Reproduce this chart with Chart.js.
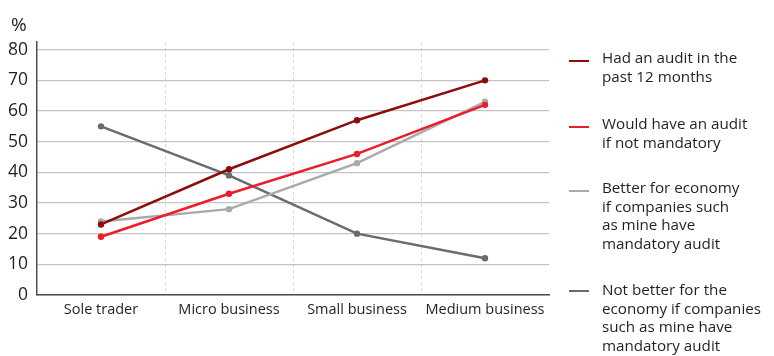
<!DOCTYPE html>
<html>
<head>
<meta charset="utf-8">
<script src="https://cdn.jsdelivr.net/npm/chart.js@4"></script>
<style>
  html, body { margin: 0; padding: 0; background: #fff; }
  #wrap { position: relative; width: 774px; height: 356px; overflow: hidden; font-family: "Open Sans", sans-serif; color: #231f20; }
  #unit { position: absolute; left: 11px; top: 11px; font-size: 19px; }
  #legend { position: absolute; left: 569px; top: 0; width: 205px; height: 356px; }
  .item { position: absolute; left: 0; }
  .swatch { position: absolute; left: 0; top: 12px; width: 20px; height: 2px; }
  .text { position: absolute; left: 33px; top: 0; width: 220px; font-size: 15.2px; line-height: 18.5px; white-space: nowrap; }
</style>
</head>
<body>
<div id="wrap">
  <canvas id="c" width="774" height="356"></canvas>
  <div id="unit">%</div>
  <div id="legend"></div>
</div>
<script>
const categories = ["Sole trader", "Micro business", "Small business", "Medium business"];
const yTicks = [0, 10, 20, 30, 40, 50, 60, 70, 80];

const seriesNames = [
  ["Had an audit in the", "past 12 months"],
  ["Would have an audit", "if not mandatory"],
  ["Better for economy", "if companies such", "as mine have", "mandatory audit"],
  ["Not better for the", "economy if companies", "such as mine have", "mandatory audit"]
];
const hadAudit      = [23, 41, 57, 70];
const wouldAudit    = [19, 33, 46, 62];
const betterEconomy = [24, 28, 43, 63];
const notBetter     = [55, 39, 20, 12];

const colors = ["#8c0d0d", "#ec1c2a", "#aaaaaa", "#6b6b6d"];
const legendTops = [48, 114, 178, 280];
const swatchTops = [12, 12, 12, 10];

const seriesValues = [hadAudit, wouldAudit, betterEconomy, notBetter];

const datasets = seriesValues.map((vals, i) => ({
  label: seriesNames[i].join(" "),
  data: vals,
  borderColor: colors[i],
  backgroundColor: colors[i],
  borderWidth: 2.5,
  pointRadius: 3.2,
  pointHoverRadius: 3.2,
  pointBorderWidth: 0,
  tension: 0
}));

new Chart(document.getElementById("c"), {
  type: "line",
  data: { labels: categories, datasets },
  options: {
    responsive: false,
    animation: false,
    events: [],
    layout: { padding: { top: 42, right: 225, left: 0, bottom: 0 } },
    plugins: { legend: { display: false }, tooltip: { enabled: false } },
    scales: {
      x: {
        offset: true,
        grid: {
          offset: true,
          drawTicks: false,
          // dashed separators between categories; the outer edges stay blank
          color: ctx => (ctx.type !== "tick" || ctx.index === 0) ? "rgba(0,0,0,0)" : "#d6d6d6",
          lineWidth: 1
        },
        border: { display: true, color: "#4d4d4f", width: 1.5, dash: [3, 3] },
        ticks: { color: "#231f20", font: { family: "'Open Sans', sans-serif", size: 14.5 }, padding: 6 },
        afterFit: s => { s.height = 61; }
      },
      y: {
        min: 0,
        max: 82.5,
        afterBuildTicks: s => { s.ticks = yTicks.map(v => ({ value: v })); },
        grid: { drawTicks: false, color: "#c4c4c4", lineWidth: 1.2 },
        border: { display: true, color: "#4d4d4f", width: 1.5 },
        ticks: { color: "#231f20", font: { family: "'Open Sans', sans-serif", size: 17.5 }, padding: 9, callback: v => String(v) },
        afterFit: s => { s.width = 37; }
      }
    }
  }
});

// legend built from the series names
const legend = document.getElementById("legend");
seriesNames.forEach((lines, i) => {
  const item = document.createElement("div");
  item.className = "item";
  item.style.top = legendTops[i] + "px";
  const sw = document.createElement("div");
  sw.className = "swatch";
  sw.style.top = swatchTops[i] + "px";
  sw.style.background = colors[i];
  const tx = document.createElement("div");
  tx.className = "text";
  tx.innerHTML = lines.join("<br>");
  item.appendChild(sw);
  item.appendChild(tx);
  legend.appendChild(item);
});
</script>
</body>
</html>
